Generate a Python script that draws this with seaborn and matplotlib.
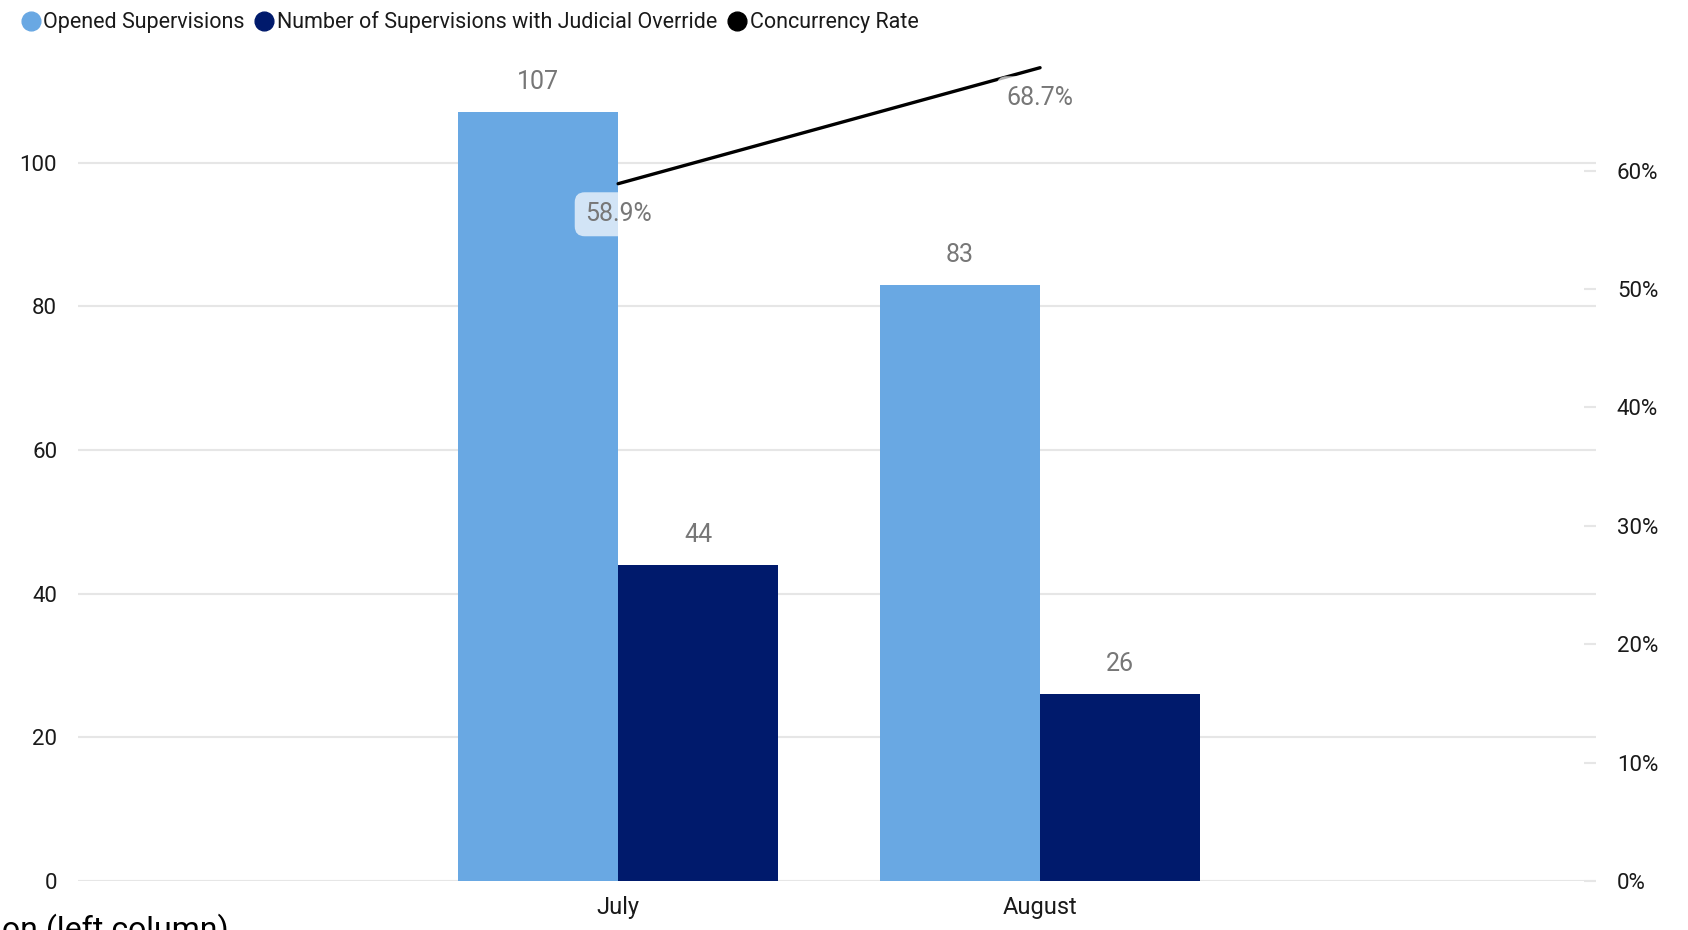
import numpy as np
import pandas as pd
import matplotlib
matplotlib.use("Agg")
import matplotlib.pyplot as plt
from matplotlib.lines import Line2D
import seaborn as sns

months = ["July", "August"]
opened = [107, 83]
override = [44, 26]
rate = [58.9, 68.7]

series_names = ["Opened Supervisions", "Number of Supervisions with Judicial Override"]
colors = {"Opened Supervisions": "#69A8E3", "Number of Supervisions with Judicial Override": "#001A6C"}

df = pd.DataFrame({
    "month": months + months,
    "series": [series_names[0]] * len(months) + [series_names[1]] * len(months),
    "value": opened + override,
})

sns.set_style("white")
plt.rcParams["font.family"] = ["Roboto", "DejaVu Sans"]

fig = plt.figure(figsize=(16.88, 9.3), dpi=100)
ax = fig.add_axes([0.0462, 0.0527, 0.8993, 0.888])

sns.barplot(data=df, x="month", y="value", hue="series", palette=colors,
            width=0.758, saturation=1, linewidth=0, legend=False, ax=ax, zorder=2)
for cont in ax.containers:
    ax.bar_label(cont, padding=13, fontsize=18, color="#777777")

ax.set_xlim(-1.28, 2.3175)
ax.set_ylim(0, 114.96)
ax.set_yticks(range(0, 101, 20))
ax.set_xlabel("")
ax.set_ylabel("")
ax.yaxis.grid(True, color="#E6E6E6", lw=1.5, zorder=0)
ax.set_axisbelow(True)
ax.tick_params(axis="y", length=0, pad=15, labelsize=16, labelcolor="#1a1a1a")
ax.tick_params(axis="x", length=0, pad=11, labelsize=17, labelcolor="#1a1a1a")
sns.despine(ax=ax, left=True, bottom=True)

ax2 = ax.twinx()
x_pos = np.arange(len(months))
sns.lineplot(x=x_pos, y=rate, color="black", lw=2.4, ax=ax2, zorder=3)
ax2.set_ylim(0, 69.76)
ax2.set_yticks(range(0, 61, 10))
ax2.set_yticklabels([f"{v}%" for v in range(0, 61, 10)])
ax2.tick_params(axis="y", direction="in", length=8.5, width=1.5, color="#E6E6E6",
                pad=15, labelsize=16, labelcolor="#1a1a1a")
ax2.set_ylabel("")
sns.despine(ax=ax2, left=True, bottom=True, right=True)
for xp, r in zip(x_pos, rate):
    ax2.annotate(f"{r}%", (xp, r), xytext=(0, -22), textcoords="offset points",
                 ha="center", va="center", fontsize=18, color="#777777", zorder=4,
                 bbox=dict(boxstyle="round,pad=0.4", fc="white", ec="none", alpha=0.7))

handles = [Line2D([], [], marker="o", ls="", markersize=13.5, color=colors[s]) for s in series_names]
handles.append(Line2D([], [], marker="o", ls="", markersize=13.5, color="black"))
fig.legend(handles, series_names + ["Concurrency Rate"], loc="center left",
           bbox_to_anchor=(0.006, 0.976), ncol=3, frameon=False, fontsize=15.5,
           handlelength=0.9, handletextpad=0.15, columnspacing=0.45, borderpad=0,
           labelcolor="#1a1a1a")

fig.text(0.001, 0.0183, "on (left column)", fontsize=23, ha="left", va="top", color="black")

fig.savefig("out.png", dpi=100)
